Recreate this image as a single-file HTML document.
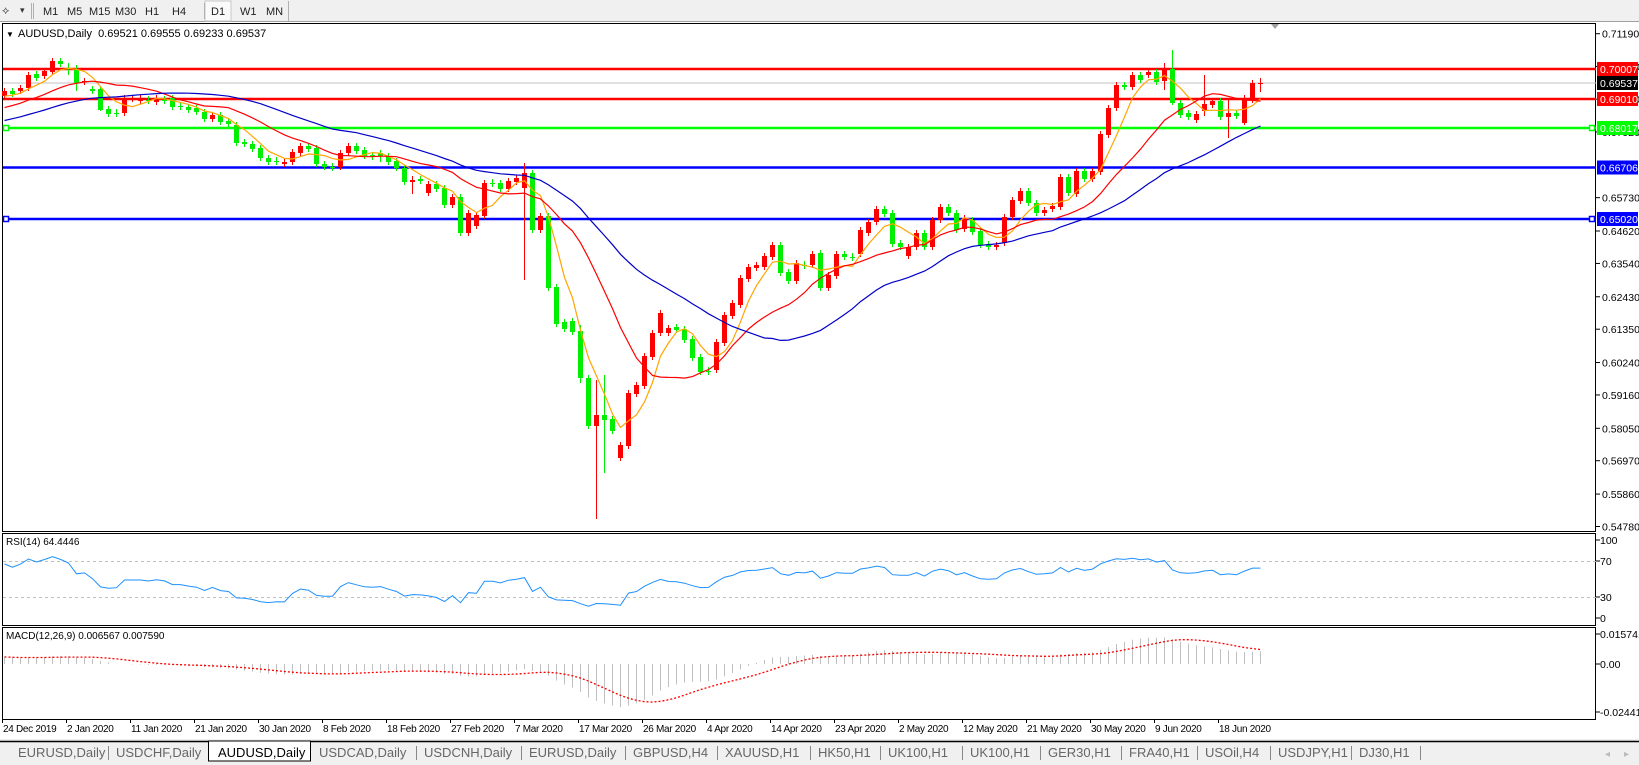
<!DOCTYPE html>
<html><head><meta charset="utf-8">
<style>
html,body{margin:0;padding:0;width:1639px;height:765px;overflow:hidden;background:#fff;font-family:"Liberation Sans",sans-serif;}
svg{display:block}
</style></head>
<body>
<svg id="s" width="1639" height="765" xmlns="http://www.w3.org/2000/svg" font-family="Liberation Sans, sans-serif"></svg>
<script>
var S=document.getElementById('s');var out=[];
function R(x,y,w,h,f,extra){out.push('<rect x="'+x+'" y="'+y+'" width="'+w+'" height="'+h+'" fill="'+f+'" '+(extra||'')+'/>');}
function L(x1,y1,x2,y2,c,w,extra){out.push('<line x1="'+x1+'" y1="'+y1+'" x2="'+x2+'" y2="'+y2+'" stroke="'+c+'" stroke-width="'+(w||1)+'" '+(extra||'')+'/>');}
function T(x,y,t,sz,c,extra){out.push('<text x="'+x+'" y="'+y+'" font-size="'+sz+'" fill="'+c+'" '+(extra||'')+'>'+t+'</text>');}
R(0,0,1639,22,'#f0f0f0');
L(0,21.5,1639,21.5,'#a0a0a0');
T(2,14,'⟡',11,'#444');
T(20,13,'▾',9,'#333');
L(31.5,3,31.5,19,'#b0b0b0');L(33.5,3,33.5,19,'#b0b0b0');
var tb=[['M1',43],['M5',67],['M15',89],['M30',115],['H1',145],['H4',172],['D1',211],['W1',240],['MN',266]];
R(205,1,26,20,'#fafafa','stroke="#c8c8c8"');
tb.forEach(function(a){T(a[1],15,a[0],11,'#222');});
L(204.5,3,204.5,19,'#b0b0b0');L(288.5,1,288.5,21,'#b0b0b0');
function frame(y1,y2){out.push('<rect x="2.5" y="'+y1+'.5" width="1593" height="'+(y2-y1)+'" fill="#fff" stroke="#000"/>');}
frame(23,531);frame(533,625);frame(627,719);
function py(p){return 33.7+(0.7119-p)*3003;}
var ticks=[0.71190,0.70100,0.69010,0.67920,0.65730,0.64620,0.63540,0.62430,0.61350,0.60240,0.59160,0.58050,0.56970,0.55860,0.54780];
ticks.forEach(function(p){var y=py(p);L(1596,y,1600,y,'#000');T(1602,y+4,p.toFixed(5),10.5,'#000');});
L(3,83,1596,83,'#c0c0c0',1);
var hl=[[69,'#ff0000'],[99,'#ff0000'],[128,'#00ff00'],[167.5,'#0000ff'],[219,'#0000ff']];
hl.forEach(function(h){L(3,h[0],1596,h[0],h[1],2.5);});
[[128,'#00ff00'],[219,'#0000ff']].forEach(function(h){out.push('<rect x="3.5" y="'+(h[0]-2.5)+'" width="5" height="5" fill="#fff" stroke="'+h[1]+'" stroke-width="1.5"/>');out.push('<rect x="1589.5" y="'+(h[0]-2.5)+'" width="5" height="5" fill="#fff" stroke="'+h[1]+'" stroke-width="1.5"/>');});
var D=[[91,96,'r'],[91,94,'g'],[88,91,'r'],[75,88,'r'],[74,78,'g'],[71,76,'r'],[61,72,'r'],[61,64,'g'],[68,68,'d'],[70,83,'g'],
[81,82,'r'],[89,91,'g'],[89,110,'g'],[109,114,'g'],[113,113,'d'],[98,113,'r'],[98,99,'r'],[98,101,'r'],[100,100,'d'],[98,102,'r'],
[100,100,'d'],[98,107,'g'],[106,107,'g'],[107,110,'g'],[108,112,'g'],[112,119,'g'],[115,119,'r'],[115,122,'g'],[121,124,'g'],[125,143,'g'],
[142,144,'g'],[144,149,'g'],[148,158,'g'],[158,162,'g'],[161,161,'d'],[162,164,'r'],[152,162,'r'],[146,153,'r'],[146,149,'g'],[148,164,'g'],
[164,167,'g'],[167,167,'d'],[153,167,'r'],[146,153,'r'],[146,151,'g'],[150,156,'g'],[155,157,'g'],[153,156,'g'],[156,162,'g'],[161,168,'g'],
[168,182,'g'],[180,182,'r'],[179,181,'g'],[184,193,'r'],[184,189,'g'],[188,205,'g'],[197,205,'r'],[197,233,'g'],[213,233,'r'],[215,226,'r'],
[183,216,'r'],[183,183,'d'],[183,189,'g'],[181,189,'r'],[178,182,'r'],[173,188,'r'],[173,230,'g'],[216,230,'r'],[216,288,'g'],[287,324,'g'],
[322,329,'g'],[321,332,'g'],[331,378,'g'],[378,426,'g'],[415,426,'r'],[415,420,'g'],[419,431,'g'],[445,458,'r'],[393,446,'r'],[385,394,'r'],
[356,386,'r'],[333,357,'r'],[313,333,'r'],[328,333,'r'],[327,330,'g'],[329,340,'g'],[339,358,'g'],[357,372,'g'],[371,371,'d'],[342,370,'r'],
[315,343,'r'],[303,316,'r'],[278,305,'r'],[267,279,'r'],[265,268,'r'],[256,267,'r'],[245,257,'r'],[245,273,'g'],[272,281,'g'],[263,281,'r'],
[265,265,'d'],[254,265,'r'],[253,288,'g'],[275,288,'r'],[254,276,'r'],[254,257,'g'],[257,257,'d'],[230,254,'r'],[222,233,'r'],[209,222,'r'],
[209,214,'g'],[213,244,'g'],[243,247,'g'],[247,256,'r'],[233,247,'r'],[233,247,'g'],[220,247,'r'],[207,220,'r'],[207,213,'g'],[213,230,'g'],
[218,229,'r'],[220,232,'g'],[231,245,'g'],[244,247,'g'],[245,247,'r'],[217,243,'r'],[200,217,'r'],[191,201,'r'],[191,203,'g'],[203,213,'g'],
[210,213,'r'],[206,209,'r'],[177,207,'r'],[177,193,'g'],[171,194,'r'],[171,179,'g'],[171,179,'r'],[134,172,'r'],[108,135,'r'],[85,108,'r'],
[85,87,'g'],[75,87,'r'],[75,80,'g'],[72,75,'r'],[72,82,'g'],[69,81,'r'],[69,103,'g'],[103,115,'g'],[113,117,'g'],[114,120,'r'],
[104,111,'r'],[101,105,'r'],[101,117,'g'],[113,117,'r'],[113,116,'g'],[99,123,'r'],[83,100,'r'],[83,83,'r']];
var W={65:[163,280],74:[380,519],75:[375,473],51:[176,194],72:[325,383],146:[50,105],145:[63,90],150:[75,116],153:[100,138],155:[95,125],157:[78,92],8:[63,75],9:[65,91],12:[86,111],47:[150,162]};
var closes=[];
D.forEach(function(d,i){var x=4+8*i;var c=d[2]=='g'?'#00ee00':'#ff0000';if(d[2]=='d')c='#00ee00';
 var hi=d[0]-3,lo=d[1]+3;if(d[0]==d[1]){hi=d[0]-4;lo=d[1]+4;}
 if(W[i]){hi=W[i][0];lo=W[i][1];}
 L(x+0.5,hi,x+0.5,lo,c,1);
 var h=Math.max(1,d[1]-d[0]);R(x-2,d[0],5,h,c);
 closes.push(d[2]=='g'?d[1]:d[0]);});
function sma(n,yOld,yNew){var pre=[];for(var k=0;k<n;k++){pre.push(yOld+(yNew-yOld)*k/(n-1));}
 var all=pre.concat(closes),r=[];for(var i=0;i<closes.length;i++){var s=0;for(var k=0;k<n;k++)s+=all[n+i-k];r.push(s/n);}return r;}
function pl(arr,c,w){var s='';arr.forEach(function(v,i){s+=(4+8*i+0.5)+','+v.toFixed(1)+' ';});out.push('<polyline points="'+s+'" fill="none" stroke="'+c+'" stroke-width="'+(w||1)+'"/>');}
pl(sma(5,100,96),'#ffa500',1.2);pl(sma(14,125,95),'#ff0000',1.2);pl(sma(30,150,95),'#0000c8',1.2);
function lab(y,bg,t,fg){R(1597,y-7,41,14,bg);T(1600,y+4,t,10.5,fg||'#fff');}
lab(69,'#ff0000','0.70007');lab(83,'#000','0.69537');lab(99,'#ff0000','0.69010');lab(128,'#00ff00','0.68017');lab(167.5,'#0000ff','0.66706');lab(219,'#0000ff','0.65020');
T(6,37,'▼',8,'#000');
T(18,37,'AUDUSD,Daily  0.69521 0.69555 0.69233 0.69537',11,'#000','xml:space="preserve"');
out.push('<polygon points="1271,24 1279,24 1275,29" fill="#a0a0a0"/>');
var prices=closes.map(function(y){return 0.7119-(y-33.7)/3003;});
var ag=0.0009,al=0.0004,rsi=[];
for(var i=0;i<prices.length;i++){var d=i?prices[i]-prices[i-1]:0;var g=d>0?d:0,l=d<0?-d:0;ag=(ag*13+g)/14;al=(al*13+l)/14;rsi.push(100-100/(1+ag/al));}
L(3,561.5,1596,561.5,'#c0c0c0',1,'stroke-dasharray="3 3"');L(3,597.5,1596,597.5,'#c0c0c0',1,'stroke-dasharray="3 3"');
pl(rsi.map(function(v){return 618-v*0.78;}),'#1e90ff',1);
T(6,545,'RSI(14) 64.4446',10,'#000');
[[100,544],[70,565],[30,601],[0,622]].forEach(function(a){L(1596,a[1]-4,1600,a[1]-4,'#000');T(1600,a[1],a[0],10.5,'#000');});
var e12=prices[0],e26=prices[0]-0.004,m=[];prices.forEach(function(p){e12+=2/13*(p-e12);e26+=2/27*(p-e26);m.push(e12-e26);});
var sig=[];m.forEach(function(v,i){var s=0,n=0;for(var k=Math.max(0,i-8);k<=i;k++){s+=m[k];n++;}sig.push(s/n);});
function my(v){return 664-v*1906;}
m.forEach(function(v,i){var x=4+8*i+0.5;L(x,664,x,my(v),'#c0c0c0',1);});
var sp='';sig.forEach(function(v,i){sp+=(4+8*i+0.5)+','+my(v).toFixed(1)+' ';});
out.push('<polyline points="'+sp+'" fill="none" stroke="#ff0000" stroke-width="1.3" stroke-dasharray="2 2"/>');
T(6,639,'MACD(12,26,9) 0.006567 0.007590',10,'#000');
[['0.015741',638,634],['0.00',668,664],['-0.024412',716,712]].forEach(function(a){L(1596,a[2],1600,a[2],'#000');T(1600,a[1],a[0],10.5,'#000');});
var dates=['24 Dec 2019','2 Jan 2020','11 Jan 2020','21 Jan 2020','30 Jan 2020','8 Feb 2020','18 Feb 2020','27 Feb 2020','7 Mar 2020','17 Mar 2020','26 Mar 2020','4 Apr 2020','14 Apr 2020','23 Apr 2020','2 May 2020','12 May 2020','21 May 2020','30 May 2020','9 Jun 2020','18 Jun 2020'];
dates.forEach(function(d,k){var x=2+64*k;L(x+0.5,719,x+0.5,723,'#000');T(x+1,732,d,10,'#000','letter-spacing="-0.3"');});
R(0,739,1639,26,'#f0f0f0');L(0,741.5,1639,741.5,'#000',1.5);
var tabs=[['EURUSD,Daily',10,108],['USDCHF,Daily',108,208],['AUDUSD,Daily',208,311],['USDCAD,Daily',311,416],['USDCNH,Daily',416,521],['EURUSD,Daily',521,625],['GBPUSD,H4',625,717],['XAUUSD,H1',717,810],['HK50,H1',810,880],['UK100,H1',880,962],['UK100,H1',962,1040],['GER30,H1',1040,1121],['FRA40,H1',1121,1197],['USOil,H4',1197,1270],['USDJPY,H1',1270,1351],['DJ30,H1',1351,1420]];
tabs.forEach(function(t){if(t[0]=='AUDUSD,Daily'&&t[1]==208){R(208.5,741,102,20,'#fff','stroke="#000"');T(t[1]+10,757,t[0],13,'#000');}else{T(t[1]+8,757,t[0],13,'#666');L(t[2]+0.5,746,t[2]+0.5,760,'#888');}});
T(1605,757,'◂',10,'#bbb');T(1624,757,'▸',10,'#bbb');
S.innerHTML=out.join('');
</script>
</body></html>
